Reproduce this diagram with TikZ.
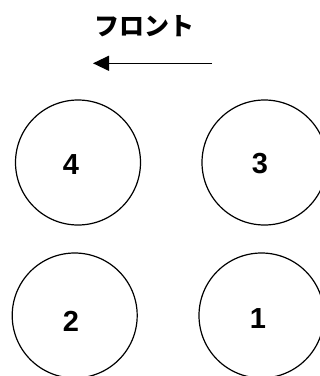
\documentclass[tikz,border=0pt]{standalone}
\usepackage{fontspec}
\setmainfont{Liberation Sans}
\newfontfamily\cjk{Noto Sans CJK JP}
\usetikzlibrary{arrows.meta}
\begin{document}
\begin{tikzpicture}[x=1pt,y=1pt,
  wheel/.style={draw=black,line width=1.2pt,circle,minimum size=125pt,inner sep=0pt},
  num/.style={font=\fontsize{29}{29}\selectfont\bfseries,inner sep=0pt}]
\useasboundingbox (0,0) rectangle (320,-376);
\clip (0,0) rectangle (320,-376);
\node[font=\cjk\fontsize{25}{25}\selectfont\bfseries,inner sep=0pt] (title) at (145,-26.5) {フロント};
\coordinate (tail) at (212,-63.3);
\coordinate (tip) at (93,-63.3);
\draw[line width=1.3pt,-{Triangle[length=16pt,width=15pt]}] (tail) -- (tip);
\node[wheel] (w4) at (78,-162.5) {};
\node[wheel] (w3) at (264.5,-162.5) {};
\node[wheel] (w2) at (74.7,-315.5) {};
\node[wheel] (w1) at (261.5,-315.5) {};
\node[num] (n4) at (71,-165) {4};
\node[num] (n3) at (260,-164) {3};
\node[num] (n2) at (71,-321) {2};
\node[num] (n1) at (258,-319) {1};
\end{tikzpicture}
\end{document}
